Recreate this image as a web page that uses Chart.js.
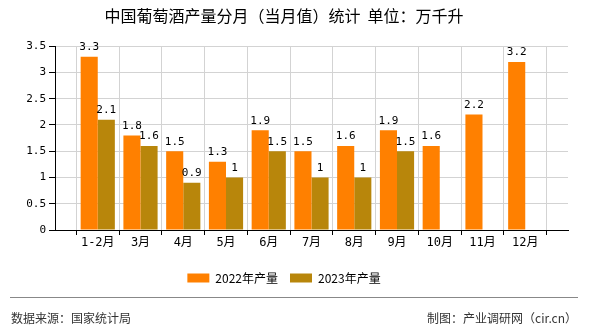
<!DOCTYPE html>
<html>
<head>
<meta charset="utf-8">
<script src="https://cdn.jsdelivr.net/npm/chart.js@4"></script>
<style>
  html, body { margin: 0; padding: 0; background: #fff; }
  #wrap { width: 590px; height: 330px; position: relative; }
</style>
</head>
<body>
<div id="wrap"><canvas id="myChart"></canvas></div>
<script>
// empty labels at both ends give the half-slot margins of the original
const months = ['', '1-2月', '3月', '4月', '5月', '6月', '7月', '8月', '9月', '10月', '11月', '12月', ''];
const output2022 = [null, 3.3, 1.8, 1.5, 1.3, 1.9, 1.5, 1.6, 1.9, 1.6, 2.2, 3.2, null];
const output2023 = [null, 2.1, 1.6, 0.9, 1, 1.5, 1, 1, 1.5, null, null, null, null];
const yTicks = [0, 0.5, 1, 1.5, 2, 2.5, 3, 3.5];

const cjkFont = '"Noto Sans CJK SC", "DejaVu Sans", sans-serif';
const monoFont = '"DejaVu Sans Mono", "Noto Sans CJK SC", monospace';

const valueLabels = {
    id: 'valueLabels',
    afterDatasetsDraw(chart) {
        const ctx = chart.ctx;
        ctx.save();
        ctx.font = '11px ' + monoFont;
        ctx.fillStyle = '#000';
        ctx.textAlign = 'center';
        ctx.textBaseline = 'bottom';
        chart.data.datasets.forEach(function (ds, i) {
            const meta = chart.getDatasetMeta(i);
            meta.data.forEach(function (bar, j) {
                const v = ds.data[j];
                if (v === null) return;
                ctx.fillText(String(v), bar.x, bar.y - 4);
            });
        });
        ctx.restore();
    }
};

const footer = {
    id: 'footer',
    afterDraw(chart) {
        const ctx = chart.ctx;
        ctx.save();
        ctx.strokeStyle = '#888';
        ctx.lineWidth = 1;
        ctx.beginPath();
        ctx.moveTo(10, 297.5);
        ctx.lineTo(578, 297.5);
        ctx.stroke();
        ctx.font = '12px ' + cjkFont;
        ctx.fillStyle = '#333';
        ctx.textBaseline = 'middle';
        ctx.textAlign = 'left';
        ctx.fillText('数据来源：国家统计局', 11, 318);
        ctx.textAlign = 'right';
        ctx.fillText('制图：产业调研网（cir.cn）', 577, 318);
        ctx.restore();
    }
};

const ctx = document.getElementById('myChart').getContext('2d');

new Chart(ctx, {
    type: 'bar',
    data: {
        labels: months,
        datasets: [
            {
                label: '2022年产量',
                data: output2022,
                backgroundColor: '#FF8000',
                categoryPercentage: 0.8,
                barPercentage: 1.0,
            },
            {
                label: '2023年产量',
                data: output2023,
                backgroundColor: '#B8860B',
                categoryPercentage: 0.8,
                barPercentage: 1.0,
            },
        ],
    },
    options: {
        responsive: true,
        maintainAspectRatio: false,
        animation: false,
        layout: {
            padding: { left: 0, right: 22, top: 0, bottom: 36 },
        },
        plugins: {
            title: {
                display: true,
                text: '中国葡萄酒产量分月（当月值）统计  单位：万千升',
                color: '#000',
                font: { family: cjkFont, size: 16, weight: 'normal' },
                padding: { top: 6, bottom: 21 },
            },
            legend: {
                display: true,
                position: 'bottom',
                labels: {
                    color: '#000',
                    boxWidth: 22,
                    boxHeight: 9,
                    padding: 12,
                    font: { family: cjkFont, size: 12 },
                },
            },
            tooltip: { enabled: false },
        },
        scales: {
            x: {
                offset: false,
                afterFit: function (axis) { axis.height = 30; },
                grid: {
                    color: '#d3d3d3',
                    tickColor: '#000',
                    tickLength: 5,
                },
                border: { color: '#000' },
                ticks: {
                    color: '#000',
                    maxRotation: 0,
                    autoSkip: false,
                    padding: 1,
                    font: { family: monoFont, size: 12 },
                },
            },
            y: {
                min: 0,
                max: 3.5,
                afterFit: function (axis) { axis.width = 55; },
                afterBuildTicks: function (axis) {
                    axis.ticks = yTicks.map(function (v) { return { value: v }; });
                },
                grid: {
                    color: '#d3d3d3',
                    tickColor: '#000',
                    tickLength: 6,
                },
                border: { color: '#000' },
                ticks: {
                    color: '#000',
                    padding: 3,
                    font: { family: monoFont, size: 11 },
                    callback: function (v) { return String(v); },
                },
            },
        },
    },
    plugins: [valueLabels, footer],
});
</script>
</body>
</html>
